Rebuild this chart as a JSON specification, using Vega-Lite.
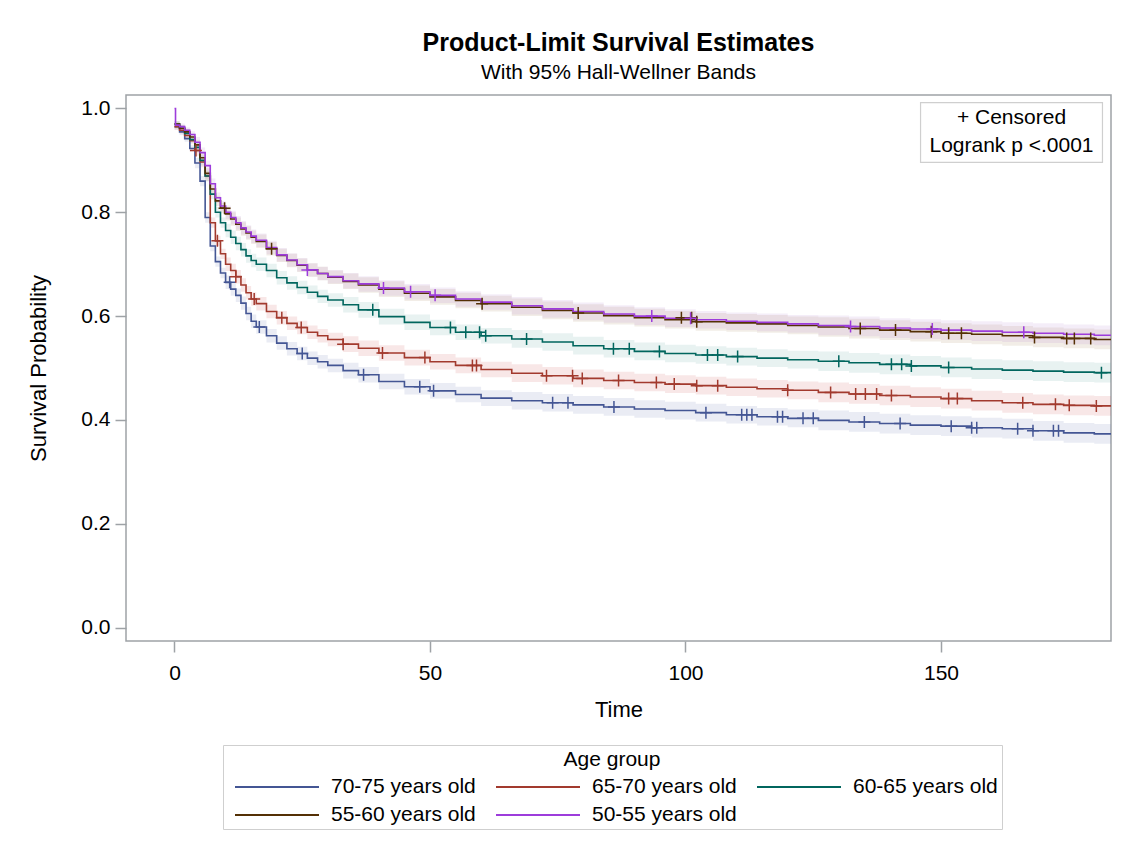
{
"$schema": "https://vega.github.io/schema/vega-lite/v6.json",
"width": 985, "height": 546,
"autosize": {"type": "none"},
"padding": {"left": 126, "top": 95, "right": 17, "bottom": 204},
"background": "white",
"title": {"text": "Product-Limit Survival Estimates", "subtitle": "With 95% Hall-Wellner Bands", "fontSize": 25, "fontWeight": "bold", "subtitleFontSize": 21, "color": "#000", "subtitleColor": "#000", "anchor": "middle", "frame": "group", "offset": 12, "subtitlePadding": 6, "font": "Liberation Sans", "subtitleFont": "Liberation Sans"},
"config": {
 "font": "Liberation Sans",
 "view": {"stroke": "#9ea2a6", "strokeWidth": 1.5},
 "axis": {"grid": false, "domain": false, "tickColor": "#9ea2a6", "tickWidth": 1.5, "tickSize": 11, "labelFontSize": 21, "labelColor": "#000", "titleFontSize": 22, "titleFontWeight": "normal", "titleColor": "#000", "labelFont": "Liberation Sans", "titleFont": "Liberation Sans"}
},
"datasets": {
"curves": [
{"g":"70-75 years old","t":0,"s":0.965,"lo":0.959,"hi":0.971},
{"g":"70-75 years old","t":1,"s":0.955,"lo":0.949,"hi":0.961},
{"g":"70-75 years old","t":2,"s":0.942,"lo":0.936,"hi":0.948},
{"g":"70-75 years old","t":3,"s":0.923,"lo":0.917,"hi":0.929},
{"g":"70-75 years old","t":4,"s":0.895,"lo":0.885,"hi":0.905},
{"g":"70-75 years old","t":5,"s":0.86,"lo":0.85,"hi":0.87},
{"g":"70-75 years old","t":6,"s":0.79,"lo":0.78,"hi":0.80},
{"g":"70-75 years old","t":7,"s":0.735,"lo":0.725,"hi":0.745},
{"g":"70-75 years old","t":8,"s":0.705,"lo":0.695,"hi":0.715},
{"g":"70-75 years old","t":9,"s":0.683,"lo":0.673,"hi":0.693},
{"g":"70-75 years old","t":10,"s":0.665,"lo":0.652,"hi":0.678},
{"g":"70-75 years old","t":11,"s":0.652,"lo":0.639,"hi":0.665},
{"g":"70-75 years old","t":12,"s":0.64,"lo":0.627,"hi":0.653},
{"g":"70-75 years old","t":13,"s":0.625,"lo":0.612,"hi":0.638},
{"g":"70-75 years old","t":14,"s":0.605,"lo":0.592,"hi":0.618},
{"g":"70-75 years old","t":15,"s":0.59,"lo":0.577,"hi":0.603},
{"g":"70-75 years old","t":16,"s":0.579,"lo":0.566,"hi":0.592},
{"g":"70-75 years old","t":18,"s":0.562,"lo":0.549,"hi":0.575},
{"g":"70-75 years old","t":20,"s":0.548,"lo":0.535,"hi":0.561},
{"g":"70-75 years old","t":22,"s":0.537,"lo":0.524,"hi":0.55},
{"g":"70-75 years old","t":24,"s":0.528,"lo":0.515,"hi":0.541},
{"g":"70-75 years old","t":26,"s":0.519,"lo":0.506,"hi":0.532},
{"g":"70-75 years old","t":28,"s":0.512,"lo":0.499,"hi":0.525},
{"g":"70-75 years old","t":30,"s":0.505,"lo":0.492,"hi":0.518},
{"g":"70-75 years old","t":33,"s":0.495,"lo":0.48,"hi":0.51},
{"g":"70-75 years old","t":36,"s":0.487,"lo":0.472,"hi":0.502},
{"g":"70-75 years old","t":40,"s":0.474,"lo":0.459,"hi":0.489},
{"g":"70-75 years old","t":45,"s":0.464,"lo":0.449,"hi":0.479},
{"g":"70-75 years old","t":50,"s":0.456,"lo":0.441,"hi":0.471},
{"g":"70-75 years old","t":55,"s":0.449,"lo":0.434,"hi":0.464},
{"g":"70-75 years old","t":60,"s":0.442,"lo":0.427,"hi":0.457},
{"g":"70-75 years old","t":66,"s":0.437,"lo":0.42,"hi":0.454},
{"g":"70-75 years old","t":72,"s":0.433,"lo":0.416,"hi":0.45},
{"g":"70-75 years old","t":78,"s":0.429,"lo":0.412,"hi":0.446},
{"g":"70-75 years old","t":84,"s":0.425,"lo":0.408,"hi":0.442},
{"g":"70-75 years old","t":90,"s":0.421,"lo":0.404,"hi":0.438},
{"g":"70-75 years old","t":96,"s":0.418,"lo":0.401,"hi":0.435},
{"g":"70-75 years old","t":102,"s":0.414,"lo":0.397,"hi":0.431},
{"g":"70-75 years old","t":108,"s":0.41,"lo":0.393,"hi":0.427},
{"g":"70-75 years old","t":114,"s":0.406,"lo":0.389,"hi":0.423},
{"g":"70-75 years old","t":120,"s":0.403,"lo":0.386,"hi":0.42},
{"g":"70-75 years old","t":126,"s":0.399,"lo":0.38,"hi":0.418},
{"g":"70-75 years old","t":132,"s":0.396,"lo":0.377,"hi":0.415},
{"g":"70-75 years old","t":138,"s":0.393,"lo":0.374,"hi":0.412},
{"g":"70-75 years old","t":144,"s":0.39,"lo":0.371,"hi":0.409},
{"g":"70-75 years old","t":150,"s":0.388,"lo":0.369,"hi":0.407},
{"g":"70-75 years old","t":156,"s":0.385,"lo":0.366,"hi":0.404},
{"g":"70-75 years old","t":162,"s":0.383,"lo":0.364,"hi":0.402},
{"g":"70-75 years old","t":168,"s":0.379,"lo":0.36,"hi":0.398},
{"g":"70-75 years old","t":174,"s":0.375,"lo":0.356,"hi":0.394},
{"g":"70-75 years old","t":180,"s":0.373,"lo":0.354,"hi":0.392},
{"g":"70-75 years old","t":184,"s":0.373,"lo":0.354,"hi":0.392},
{"g":"65-70 years old","t":0,"s":0.965,"lo":0.959,"hi":0.971},
{"g":"65-70 years old","t":1,"s":0.958,"lo":0.952,"hi":0.964},
{"g":"65-70 years old","t":2,"s":0.948,"lo":0.942,"hi":0.954},
{"g":"65-70 years old","t":3,"s":0.938,"lo":0.932,"hi":0.944},
{"g":"65-70 years old","t":4,"s":0.919,"lo":0.909,"hi":0.929},
{"g":"65-70 years old","t":5,"s":0.897,"lo":0.887,"hi":0.907},
{"g":"65-70 years old","t":6,"s":0.87,"lo":0.86,"hi":0.88},
{"g":"65-70 years old","t":7,"s":0.78,"lo":0.77,"hi":0.79},
{"g":"65-70 years old","t":8,"s":0.745,"lo":0.735,"hi":0.755},
{"g":"65-70 years old","t":9,"s":0.72,"lo":0.71,"hi":0.73},
{"g":"65-70 years old","t":10,"s":0.70,"lo":0.687,"hi":0.713},
{"g":"65-70 years old","t":11,"s":0.688,"lo":0.675,"hi":0.701},
{"g":"65-70 years old","t":12,"s":0.676,"lo":0.663,"hi":0.689},
{"g":"65-70 years old","t":13,"s":0.66,"lo":0.647,"hi":0.673},
{"g":"65-70 years old","t":14,"s":0.645,"lo":0.632,"hi":0.658},
{"g":"65-70 years old","t":15,"s":0.633,"lo":0.62,"hi":0.646},
{"g":"65-70 years old","t":16,"s":0.624,"lo":0.611,"hi":0.637},
{"g":"65-70 years old","t":18,"s":0.609,"lo":0.596,"hi":0.622},
{"g":"65-70 years old","t":20,"s":0.597,"lo":0.584,"hi":0.61},
{"g":"65-70 years old","t":22,"s":0.586,"lo":0.573,"hi":0.599},
{"g":"65-70 years old","t":24,"s":0.578,"lo":0.565,"hi":0.591},
{"g":"65-70 years old","t":26,"s":0.569,"lo":0.556,"hi":0.582},
{"g":"65-70 years old","t":28,"s":0.562,"lo":0.549,"hi":0.575},
{"g":"65-70 years old","t":30,"s":0.555,"lo":0.542,"hi":0.568},
{"g":"65-70 years old","t":33,"s":0.546,"lo":0.531,"hi":0.561},
{"g":"65-70 years old","t":36,"s":0.538,"lo":0.523,"hi":0.553},
{"g":"65-70 years old","t":40,"s":0.529,"lo":0.514,"hi":0.544},
{"g":"65-70 years old","t":45,"s":0.52,"lo":0.505,"hi":0.535},
{"g":"65-70 years old","t":50,"s":0.512,"lo":0.497,"hi":0.527},
{"g":"65-70 years old","t":55,"s":0.505,"lo":0.49,"hi":0.52},
{"g":"65-70 years old","t":60,"s":0.497,"lo":0.482,"hi":0.512},
{"g":"65-70 years old","t":66,"s":0.49,"lo":0.473,"hi":0.507},
{"g":"65-70 years old","t":72,"s":0.485,"lo":0.468,"hi":0.502},
{"g":"65-70 years old","t":78,"s":0.48,"lo":0.463,"hi":0.497},
{"g":"65-70 years old","t":84,"s":0.476,"lo":0.459,"hi":0.493},
{"g":"65-70 years old","t":90,"s":0.472,"lo":0.455,"hi":0.489},
{"g":"65-70 years old","t":96,"s":0.469,"lo":0.452,"hi":0.486},
{"g":"65-70 years old","t":102,"s":0.466,"lo":0.449,"hi":0.483},
{"g":"65-70 years old","t":108,"s":0.463,"lo":0.446,"hi":0.48},
{"g":"65-70 years old","t":114,"s":0.46,"lo":0.443,"hi":0.477},
{"g":"65-70 years old","t":120,"s":0.457,"lo":0.44,"hi":0.474},
{"g":"65-70 years old","t":126,"s":0.453,"lo":0.434,"hi":0.472},
{"g":"65-70 years old","t":132,"s":0.45,"lo":0.431,"hi":0.469},
{"g":"65-70 years old","t":138,"s":0.447,"lo":0.428,"hi":0.466},
{"g":"65-70 years old","t":144,"s":0.444,"lo":0.425,"hi":0.463},
{"g":"65-70 years old","t":150,"s":0.441,"lo":0.422,"hi":0.46},
{"g":"65-70 years old","t":156,"s":0.437,"lo":0.418,"hi":0.456},
{"g":"65-70 years old","t":162,"s":0.433,"lo":0.414,"hi":0.452},
{"g":"65-70 years old","t":168,"s":0.43,"lo":0.411,"hi":0.449},
{"g":"65-70 years old","t":174,"s":0.428,"lo":0.409,"hi":0.447},
{"g":"65-70 years old","t":180,"s":0.427,"lo":0.408,"hi":0.446},
{"g":"65-70 years old","t":184,"s":0.427,"lo":0.408,"hi":0.446},
{"g":"60-65 years old","t":0,"s":0.97,"lo":0.964,"hi":0.976},
{"g":"60-65 years old","t":1,"s":0.962,"lo":0.956,"hi":0.968},
{"g":"60-65 years old","t":2,"s":0.952,"lo":0.946,"hi":0.958},
{"g":"60-65 years old","t":3,"s":0.94,"lo":0.934,"hi":0.946},
{"g":"60-65 years old","t":4,"s":0.925,"lo":0.915,"hi":0.935},
{"g":"60-65 years old","t":5,"s":0.9,"lo":0.89,"hi":0.91},
{"g":"60-65 years old","t":6,"s":0.87,"lo":0.86,"hi":0.88},
{"g":"60-65 years old","t":7,"s":0.835,"lo":0.825,"hi":0.845},
{"g":"60-65 years old","t":8,"s":0.8,"lo":0.79,"hi":0.81},
{"g":"60-65 years old","t":9,"s":0.78,"lo":0.77,"hi":0.79},
{"g":"60-65 years old","t":10,"s":0.765,"lo":0.752,"hi":0.778},
{"g":"60-65 years old","t":11,"s":0.752,"lo":0.739,"hi":0.765},
{"g":"60-65 years old","t":12,"s":0.74,"lo":0.727,"hi":0.753},
{"g":"60-65 years old","t":13,"s":0.728,"lo":0.715,"hi":0.741},
{"g":"60-65 years old","t":14,"s":0.716,"lo":0.703,"hi":0.729},
{"g":"60-65 years old","t":15,"s":0.707,"lo":0.694,"hi":0.72},
{"g":"60-65 years old","t":16,"s":0.7,"lo":0.687,"hi":0.713},
{"g":"60-65 years old","t":18,"s":0.688,"lo":0.675,"hi":0.701},
{"g":"60-65 years old","t":20,"s":0.674,"lo":0.661,"hi":0.687},
{"g":"60-65 years old","t":22,"s":0.664,"lo":0.651,"hi":0.677},
{"g":"60-65 years old","t":24,"s":0.655,"lo":0.642,"hi":0.668},
{"g":"60-65 years old","t":26,"s":0.646,"lo":0.633,"hi":0.659},
{"g":"60-65 years old","t":28,"s":0.638,"lo":0.625,"hi":0.651},
{"g":"60-65 years old","t":30,"s":0.631,"lo":0.618,"hi":0.644},
{"g":"60-65 years old","t":33,"s":0.622,"lo":0.607,"hi":0.637},
{"g":"60-65 years old","t":36,"s":0.612,"lo":0.597,"hi":0.627},
{"g":"60-65 years old","t":40,"s":0.599,"lo":0.584,"hi":0.614},
{"g":"60-65 years old","t":45,"s":0.588,"lo":0.573,"hi":0.603},
{"g":"60-65 years old","t":50,"s":0.578,"lo":0.563,"hi":0.593},
{"g":"60-65 years old","t":55,"s":0.569,"lo":0.554,"hi":0.584},
{"g":"60-65 years old","t":60,"s":0.562,"lo":0.547,"hi":0.577},
{"g":"60-65 years old","t":66,"s":0.556,"lo":0.539,"hi":0.573},
{"g":"60-65 years old","t":72,"s":0.55,"lo":0.533,"hi":0.567},
{"g":"60-65 years old","t":78,"s":0.543,"lo":0.526,"hi":0.56},
{"g":"60-65 years old","t":84,"s":0.537,"lo":0.52,"hi":0.554},
{"g":"60-65 years old","t":90,"s":0.532,"lo":0.515,"hi":0.549},
{"g":"60-65 years old","t":96,"s":0.528,"lo":0.511,"hi":0.545},
{"g":"60-65 years old","t":102,"s":0.525,"lo":0.508,"hi":0.542},
{"g":"60-65 years old","t":108,"s":0.522,"lo":0.505,"hi":0.539},
{"g":"60-65 years old","t":114,"s":0.519,"lo":0.502,"hi":0.536},
{"g":"60-65 years old","t":120,"s":0.516,"lo":0.499,"hi":0.533},
{"g":"60-65 years old","t":126,"s":0.513,"lo":0.494,"hi":0.532},
{"g":"60-65 years old","t":132,"s":0.51,"lo":0.491,"hi":0.529},
{"g":"60-65 years old","t":138,"s":0.507,"lo":0.488,"hi":0.526},
{"g":"60-65 years old","t":144,"s":0.504,"lo":0.485,"hi":0.523},
{"g":"60-65 years old","t":150,"s":0.501,"lo":0.482,"hi":0.52},
{"g":"60-65 years old","t":156,"s":0.498,"lo":0.479,"hi":0.517},
{"g":"60-65 years old","t":162,"s":0.496,"lo":0.477,"hi":0.515},
{"g":"60-65 years old","t":168,"s":0.494,"lo":0.475,"hi":0.513},
{"g":"60-65 years old","t":174,"s":0.492,"lo":0.473,"hi":0.511},
{"g":"60-65 years old","t":180,"s":0.491,"lo":0.472,"hi":0.51},
{"g":"60-65 years old","t":184,"s":0.491,"lo":0.472,"hi":0.51},
{"g":"55-60 years old","t":0,"s":0.97,"lo":0.964,"hi":0.976},
{"g":"55-60 years old","t":1,"s":0.962,"lo":0.956,"hi":0.968},
{"g":"55-60 years old","t":2,"s":0.955,"lo":0.949,"hi":0.961},
{"g":"55-60 years old","t":3,"s":0.945,"lo":0.939,"hi":0.951},
{"g":"55-60 years old","t":4,"s":0.93,"lo":0.92,"hi":0.94},
{"g":"55-60 years old","t":5,"s":0.905,"lo":0.895,"hi":0.915},
{"g":"55-60 years old","t":6,"s":0.875,"lo":0.865,"hi":0.885},
{"g":"55-60 years old","t":7,"s":0.845,"lo":0.835,"hi":0.855},
{"g":"55-60 years old","t":8,"s":0.822,"lo":0.812,"hi":0.832},
{"g":"55-60 years old","t":9,"s":0.808,"lo":0.798,"hi":0.818},
{"g":"55-60 years old","t":10,"s":0.797,"lo":0.784,"hi":0.81},
{"g":"55-60 years old","t":11,"s":0.787,"lo":0.774,"hi":0.8},
{"g":"55-60 years old","t":12,"s":0.777,"lo":0.764,"hi":0.79},
{"g":"55-60 years old","t":13,"s":0.768,"lo":0.755,"hi":0.781},
{"g":"55-60 years old","t":14,"s":0.76,"lo":0.747,"hi":0.773},
{"g":"55-60 years old","t":15,"s":0.752,"lo":0.739,"hi":0.765},
{"g":"55-60 years old","t":16,"s":0.744,"lo":0.731,"hi":0.757},
{"g":"55-60 years old","t":18,"s":0.73,"lo":0.717,"hi":0.743},
{"g":"55-60 years old","t":20,"s":0.717,"lo":0.704,"hi":0.73},
{"g":"55-60 years old","t":22,"s":0.707,"lo":0.694,"hi":0.72},
{"g":"55-60 years old","t":24,"s":0.698,"lo":0.685,"hi":0.711},
{"g":"55-60 years old","t":26,"s":0.689,"lo":0.676,"hi":0.702},
{"g":"55-60 years old","t":28,"s":0.682,"lo":0.669,"hi":0.695},
{"g":"55-60 years old","t":30,"s":0.675,"lo":0.662,"hi":0.688},
{"g":"55-60 years old","t":33,"s":0.667,"lo":0.652,"hi":0.682},
{"g":"55-60 years old","t":36,"s":0.66,"lo":0.645,"hi":0.675},
{"g":"55-60 years old","t":40,"s":0.652,"lo":0.637,"hi":0.667},
{"g":"55-60 years old","t":45,"s":0.644,"lo":0.629,"hi":0.659},
{"g":"55-60 years old","t":50,"s":0.637,"lo":0.622,"hi":0.652},
{"g":"55-60 years old","t":55,"s":0.63,"lo":0.615,"hi":0.645},
{"g":"55-60 years old","t":60,"s":0.624,"lo":0.609,"hi":0.639},
{"g":"55-60 years old","t":66,"s":0.617,"lo":0.6,"hi":0.634},
{"g":"55-60 years old","t":72,"s":0.611,"lo":0.594,"hi":0.628},
{"g":"55-60 years old","t":78,"s":0.606,"lo":0.589,"hi":0.623},
{"g":"55-60 years old","t":84,"s":0.601,"lo":0.584,"hi":0.618},
{"g":"55-60 years old","t":90,"s":0.597,"lo":0.58,"hi":0.614},
{"g":"55-60 years old","t":96,"s":0.593,"lo":0.576,"hi":0.61},
{"g":"55-60 years old","t":102,"s":0.589,"lo":0.572,"hi":0.606},
{"g":"55-60 years old","t":108,"s":0.587,"lo":0.57,"hi":0.604},
{"g":"55-60 years old","t":114,"s":0.585,"lo":0.568,"hi":0.602},
{"g":"55-60 years old","t":120,"s":0.582,"lo":0.565,"hi":0.599},
{"g":"55-60 years old","t":126,"s":0.579,"lo":0.56,"hi":0.598},
{"g":"55-60 years old","t":132,"s":0.576,"lo":0.557,"hi":0.595},
{"g":"55-60 years old","t":138,"s":0.573,"lo":0.554,"hi":0.592},
{"g":"55-60 years old","t":144,"s":0.57,"lo":0.551,"hi":0.589},
{"g":"55-60 years old","t":150,"s":0.567,"lo":0.548,"hi":0.586},
{"g":"55-60 years old","t":156,"s":0.565,"lo":0.546,"hi":0.584},
{"g":"55-60 years old","t":162,"s":0.562,"lo":0.543,"hi":0.581},
{"g":"55-60 years old","t":168,"s":0.559,"lo":0.54,"hi":0.578},
{"g":"55-60 years old","t":174,"s":0.557,"lo":0.538,"hi":0.576},
{"g":"55-60 years old","t":180,"s":0.555,"lo":0.536,"hi":0.574},
{"g":"55-60 years old","t":184,"s":0.555,"lo":0.536,"hi":0.574},
{"g":"50-55 years old","t":0,"s":1.0,"lo":1.0,"hi":1.0},
{"g":"50-55 years old","t":0.2,"s":0.968,"lo":0.962,"hi":0.974},
{"g":"50-55 years old","t":1,"s":0.965,"lo":0.959,"hi":0.971},
{"g":"50-55 years old","t":2,"s":0.958,"lo":0.952,"hi":0.964},
{"g":"50-55 years old","t":3,"s":0.95,"lo":0.944,"hi":0.956},
{"g":"50-55 years old","t":4,"s":0.935,"lo":0.925,"hi":0.945},
{"g":"50-55 years old","t":5,"s":0.915,"lo":0.905,"hi":0.925},
{"g":"50-55 years old","t":6,"s":0.89,"lo":0.88,"hi":0.90},
{"g":"50-55 years old","t":7,"s":0.855,"lo":0.845,"hi":0.865},
{"g":"50-55 years old","t":8,"s":0.828,"lo":0.818,"hi":0.838},
{"g":"50-55 years old","t":9,"s":0.812,"lo":0.802,"hi":0.822},
{"g":"50-55 years old","t":10,"s":0.8,"lo":0.787,"hi":0.813},
{"g":"50-55 years old","t":11,"s":0.79,"lo":0.777,"hi":0.803},
{"g":"50-55 years old","t":12,"s":0.78,"lo":0.767,"hi":0.793},
{"g":"50-55 years old","t":13,"s":0.77,"lo":0.757,"hi":0.783},
{"g":"50-55 years old","t":14,"s":0.762,"lo":0.749,"hi":0.775},
{"g":"50-55 years old","t":15,"s":0.754,"lo":0.741,"hi":0.767},
{"g":"50-55 years old","t":16,"s":0.746,"lo":0.733,"hi":0.759},
{"g":"50-55 years old","t":18,"s":0.732,"lo":0.719,"hi":0.745},
{"g":"50-55 years old","t":20,"s":0.718,"lo":0.705,"hi":0.731},
{"g":"50-55 years old","t":22,"s":0.708,"lo":0.695,"hi":0.721},
{"g":"50-55 years old","t":24,"s":0.699,"lo":0.686,"hi":0.712},
{"g":"50-55 years old","t":26,"s":0.689,"lo":0.676,"hi":0.702},
{"g":"50-55 years old","t":28,"s":0.682,"lo":0.669,"hi":0.695},
{"g":"50-55 years old","t":30,"s":0.676,"lo":0.663,"hi":0.689},
{"g":"50-55 years old","t":33,"s":0.668,"lo":0.653,"hi":0.683},
{"g":"50-55 years old","t":36,"s":0.662,"lo":0.647,"hi":0.677},
{"g":"50-55 years old","t":40,"s":0.654,"lo":0.639,"hi":0.669},
{"g":"50-55 years old","t":45,"s":0.647,"lo":0.632,"hi":0.662},
{"g":"50-55 years old","t":50,"s":0.64,"lo":0.625,"hi":0.655},
{"g":"50-55 years old","t":55,"s":0.633,"lo":0.618,"hi":0.648},
{"g":"50-55 years old","t":60,"s":0.627,"lo":0.612,"hi":0.642},
{"g":"50-55 years old","t":66,"s":0.62,"lo":0.603,"hi":0.637},
{"g":"50-55 years old","t":72,"s":0.614,"lo":0.597,"hi":0.631},
{"g":"50-55 years old","t":78,"s":0.609,"lo":0.592,"hi":0.626},
{"g":"50-55 years old","t":84,"s":0.604,"lo":0.587,"hi":0.621},
{"g":"50-55 years old","t":90,"s":0.6,"lo":0.583,"hi":0.617},
{"g":"50-55 years old","t":96,"s":0.596,"lo":0.579,"hi":0.613},
{"g":"50-55 years old","t":102,"s":0.593,"lo":0.576,"hi":0.61},
{"g":"50-55 years old","t":108,"s":0.59,"lo":0.573,"hi":0.607},
{"g":"50-55 years old","t":114,"s":0.588,"lo":0.571,"hi":0.605},
{"g":"50-55 years old","t":120,"s":0.585,"lo":0.568,"hi":0.602},
{"g":"50-55 years old","t":126,"s":0.582,"lo":0.563,"hi":0.601},
{"g":"50-55 years old","t":132,"s":0.58,"lo":0.561,"hi":0.599},
{"g":"50-55 years old","t":138,"s":0.577,"lo":0.558,"hi":0.596},
{"g":"50-55 years old","t":144,"s":0.575,"lo":0.556,"hi":0.594},
{"g":"50-55 years old","t":150,"s":0.573,"lo":0.554,"hi":0.592},
{"g":"50-55 years old","t":156,"s":0.571,"lo":0.552,"hi":0.59},
{"g":"50-55 years old","t":162,"s":0.569,"lo":0.55,"hi":0.588},
{"g":"50-55 years old","t":168,"s":0.567,"lo":0.548,"hi":0.586},
{"g":"50-55 years old","t":174,"s":0.565,"lo":0.546,"hi":0.584},
{"g":"50-55 years old","t":180,"s":0.563,"lo":0.544,"hi":0.582},
{"g":"50-55 years old","t":184,"s":0.563,"lo":0.544,"hi":0.582}
],
"censored": [
{"g":"70-75 years old","t":10.8,"s":0.665},{"g":"70-75 years old","t":16.6,"s":0.579},{"g":"70-75 years old","t":25,"s":0.528},{"g":"70-75 years old","t":37,"s":0.487},{"g":"70-75 years old","t":48,"s":0.464},{"g":"70-75 years old","t":50.7,"s":0.456},{"g":"70-75 years old","t":74,"s":0.433},{"g":"70-75 years old","t":77,"s":0.433},{"g":"70-75 years old","t":86,"s":0.425},{"g":"70-75 years old","t":104,"s":0.414},{"g":"70-75 years old","t":111,"s":0.41},{"g":"70-75 years old","t":112,"s":0.41},{"g":"70-75 years old","t":113,"s":0.41},{"g":"70-75 years old","t":118,"s":0.406},{"g":"70-75 years old","t":119,"s":0.406},{"g":"70-75 years old","t":123,"s":0.403},{"g":"70-75 years old","t":125,"s":0.403},{"g":"70-75 years old","t":135,"s":0.396},{"g":"70-75 years old","t":142,"s":0.393},{"g":"70-75 years old","t":152,"s":0.388},{"g":"70-75 years old","t":156,"s":0.385},{"g":"70-75 years old","t":157,"s":0.385},{"g":"70-75 years old","t":165,"s":0.383},{"g":"70-75 years old","t":168,"s":0.379},{"g":"70-75 years old","t":172,"s":0.379},{"g":"70-75 years old","t":173,"s":0.379},
{"g":"65-70 years old","t":4.2,"s":0.919},{"g":"65-70 years old","t":8.4,"s":0.745},{"g":"65-70 years old","t":12,"s":0.676},{"g":"65-70 years old","t":15.6,"s":0.633},{"g":"65-70 years old","t":21,"s":0.597},{"g":"65-70 years old","t":24.8,"s":0.578},{"g":"65-70 years old","t":33,"s":0.546},{"g":"65-70 years old","t":40.7,"s":0.529},{"g":"65-70 years old","t":49,"s":0.52},{"g":"65-70 years old","t":58.3,"s":0.505},{"g":"65-70 years old","t":59.1,"s":0.505},{"g":"65-70 years old","t":72.8,"s":0.485},{"g":"65-70 years old","t":77.9,"s":0.485},{"g":"65-70 years old","t":79.8,"s":0.48},{"g":"65-70 years old","t":86.9,"s":0.476},{"g":"65-70 years old","t":94.3,"s":0.472},{"g":"65-70 years old","t":97.8,"s":0.469},{"g":"65-70 years old","t":102.2,"s":0.466},{"g":"65-70 years old","t":106.3,"s":0.466},{"g":"65-70 years old","t":120,"s":0.457},{"g":"65-70 years old","t":128.4,"s":0.453},{"g":"65-70 years old","t":133.3,"s":0.45},{"g":"65-70 years old","t":135.2,"s":0.45},{"g":"65-70 years old","t":137.4,"s":0.45},{"g":"65-70 years old","t":140.3,"s":0.447},{"g":"65-70 years old","t":151.5,"s":0.441},{"g":"65-70 years old","t":153.2,"s":0.441},{"g":"65-70 years old","t":166,"s":0.433},{"g":"65-70 years old","t":172.4,"s":0.43},{"g":"65-70 years old","t":175.1,"s":0.428},{"g":"65-70 years old","t":180.4,"s":0.427},
{"g":"60-65 years old","t":38.8,"s":0.612},{"g":"60-65 years old","t":54,"s":0.578},{"g":"60-65 years old","t":57,"s":0.569},{"g":"60-65 years old","t":59.7,"s":0.569},{"g":"60-65 years old","t":60.9,"s":0.562},{"g":"60-65 years old","t":68.9,"s":0.556},{"g":"60-65 years old","t":85.9,"s":0.537},{"g":"60-65 years old","t":89,"s":0.537},{"g":"60-65 years old","t":94.9,"s":0.532},{"g":"60-65 years old","t":104.3,"s":0.525},{"g":"60-65 years old","t":106.3,"s":0.525},{"g":"60-65 years old","t":110.2,"s":0.522},{"g":"60-65 years old","t":130,"s":0.513},{"g":"60-65 years old","t":140.3,"s":0.507},{"g":"60-65 years old","t":142.3,"s":0.507},{"g":"60-65 years old","t":144.2,"s":0.504},{"g":"60-65 years old","t":151.5,"s":0.501},{"g":"60-65 years old","t":181.4,"s":0.491},
{"g":"55-60 years old","t":9.8,"s":0.808},{"g":"55-60 years old","t":19,"s":0.73},{"g":"55-60 years old","t":60.2,"s":0.624},{"g":"55-60 years old","t":79,"s":0.606},{"g":"55-60 years old","t":99.2,"s":0.597},{"g":"55-60 years old","t":101.2,"s":0.597},{"g":"55-60 years old","t":102.2,"s":0.589},{"g":"55-60 years old","t":134.2,"s":0.576},{"g":"55-60 years old","t":141.1,"s":0.573},{"g":"55-60 years old","t":148.1,"s":0.57},{"g":"55-60 years old","t":151.5,"s":0.567},{"g":"55-60 years old","t":154,"s":0.567},{"g":"55-60 years old","t":168.3,"s":0.559},{"g":"55-60 years old","t":174.6,"s":0.557},{"g":"55-60 years old","t":176.1,"s":0.557},{"g":"55-60 years old","t":179.3,"s":0.557},
{"g":"50-55 years old","t":26,"s":0.689},{"g":"50-55 years old","t":40.9,"s":0.654},{"g":"50-55 years old","t":46.2,"s":0.647},{"g":"50-55 years old","t":51,"s":0.64},{"g":"50-55 years old","t":93.4,"s":0.6},{"g":"50-55 years old","t":101,"s":0.596},{"g":"50-55 years old","t":132.3,"s":0.58},{"g":"50-55 years old","t":148.3,"s":0.575},{"g":"50-55 years old","t":166.2,"s":0.569}
]
},
"layer": [
{
 "data": {"name": "curves"},
 "mark": {"type": "area", "interpolate": "step-after", "fillOpacity": 0.15, "clip": true},
 "encoding": {
  "x": {"field": "t", "type": "quantitative", "scale": {"domain": [-9.49, 183.27], "nice": false, "zero": false}, "axis": {"title": "Time", "values": [0, 50, 100, 150], "labelPadding": 10, "titlePadding": 16, "labelFlush": false}},
  "y": {"field": "lo", "type": "quantitative", "scale": {"domain": [-0.026, 1.026], "nice": false, "zero": false}, "axis": {"title": "Survival Probability", "values": [0, 0.2, 0.4, 0.6, 0.8, 1.0], "format": ".1f", "labelPadding": 5, "titlePadding": 30}},
  "y2": {"field": "hi"},
  "fill": {"field": "g", "type": "nominal", "scale": {"domain": ["50-55 years old", "55-60 years old", "60-65 years old", "65-70 years old", "70-75 years old"], "range": ["#B689CD", "#A9865B", "#66A5A0", "#D05B5B", "#6F7EB3"]}, "legend": null}
 }
},
{
 "data": {"name": "curves"},
 "mark": {"type": "line", "interpolate": "step-after", "strokeWidth": 1.6, "clip": true},
 "encoding": {
  "x": {"field": "t", "type": "quantitative"},
  "y": {"field": "s", "type": "quantitative"},
  "color": {"field": "g", "type": "nominal", "scale": {"domain": ["70-75 years old", "65-70 years old", "60-65 years old", "55-60 years old", "50-55 years old"], "range": ["#445694", "#A23A2E", "#01665E", "#543005", "#9D3CDB"]},
   "legend": {"title": "Age group", "orient": "none", "legendX": 97, "legendY": 650, "direction": "horizontal", "columns": 3, "titleAnchor": "middle", "titleFontSize": 21, "titleFontWeight": "normal", "titleColor": "#000", "titleFont": "Liberation Sans", "titlePadding": 2, "labelFontSize": 21, "labelColor": "#000", "labelFont": "Liberation Sans", "labelOffset": 74, "labelLimit": 300, "symbolType": "M-0.5,0H5.5", "symbolSize": 784, "symbolStrokeWidth": 2, "padding": 4, "strokeColor": "#cfcfcf", "columnPadding": 12, "rowPadding": 3}}
 }
},
{
 "data": {"name": "censored"},
 "mark": {"type": "point", "shape": "M0,-1V1M-1,0H1", "filled": false, "size": 144, "strokeWidth": 1.5, "opacity": 1, "clip": true},
 "encoding": {
  "x": {"field": "t", "type": "quantitative"},
  "y": {"field": "s", "type": "quantitative"},
  "stroke": {"field": "g", "type": "nominal", "scale": {"domain": ["60-65 years old", "55-60 years old", "50-55 years old", "70-75 years old", "65-70 years old"], "range": ["#01665E", "#543005", "#9D3CDB", "#445694", "#A23A2E"]}, "legend": null}
 }
},
{
 "data": {"values": [{}]},
 "mark": {"type": "rect", "fill": "white", "stroke": "#cfcfcf", "strokeWidth": 1.2},
 "encoding": {"x": {"datum": 146}, "x2": {"datum": 181.6}, "y": {"datum": 1.0115}, "y2": {"datum": 0.896}}
},
{
 "data": {"values": [{}]},
 "mark": {"type": "text", "fontSize": 21, "font": "Liberation Sans", "color": "#000", "align": "center", "baseline": "middle"},
 "encoding": {"x": {"datum": 163.8}, "y": {"datum": 0.981}, "text": {"value": "+ Censored"}}
},
{
 "data": {"values": [{}]},
 "mark": {"type": "text", "fontSize": 21, "font": "Liberation Sans", "color": "#000", "align": "center", "baseline": "middle"},
 "encoding": {"x": {"datum": 163.8}, "y": {"datum": 0.927}, "text": {"value": "Logrank p <.0001"}}
}
]
}
